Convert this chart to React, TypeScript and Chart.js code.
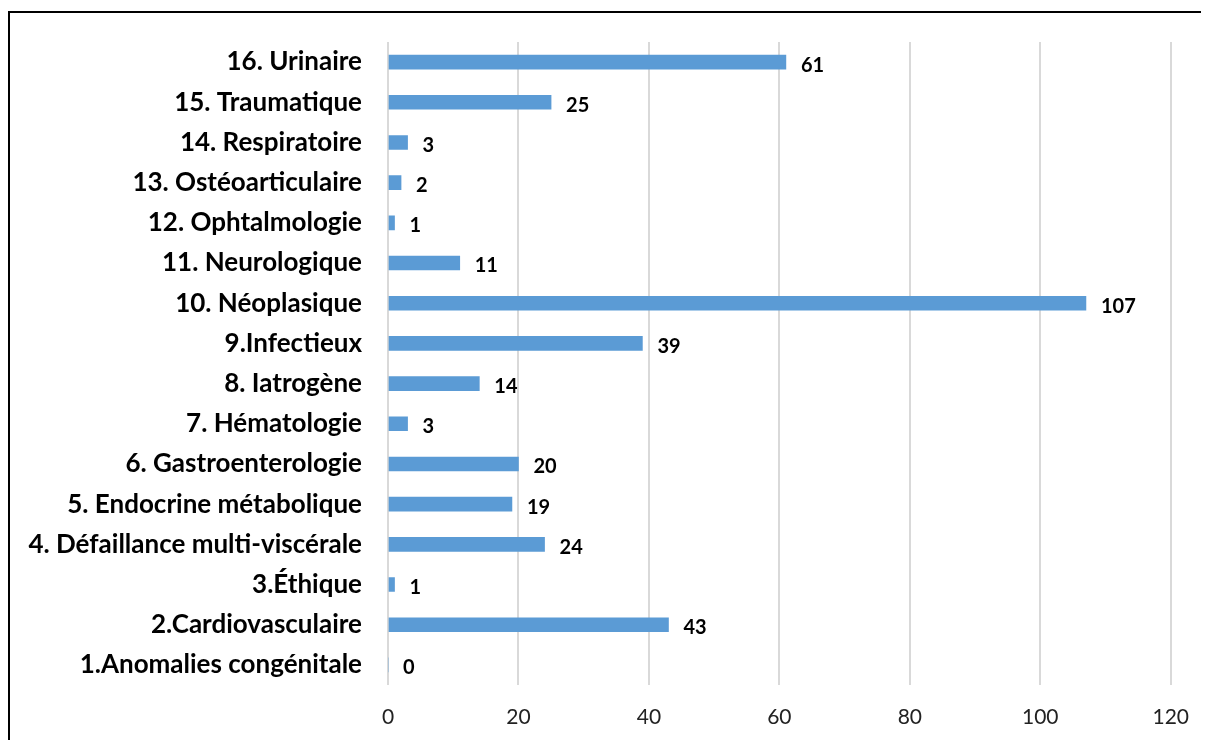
import React, { useEffect, useRef } from "react";
import { Chart, registerables } from "chart.js";

Chart.register(...registerables);

const categories = [
  "16. Urinaire",
  "15. Traumatique",
  "14. Respiratoire",
  "13. Ostéoarticulaire",
  "12. Ophtalmologie",
  "11. Neurologique",
  "10. Néoplasique",
  "9.Infectieux",
  "8. Iatrogène",
  "7. Hématologie",
  "6. Gastroenterologie",
  "5. Endocrine métabolique",
  "4. Défaillance multi-viscérale",
  "3.Éthique",
  "2.Cardiovasculaire",
  "1.Anomalies congénitale",
];
const values = [61, 25, 3, 2, 1, 11, 107, 39, 14, 3, 20, 19, 24, 1, 43, 0];
const xTicks = [0, 20, 40, 60, 80, 100, 120];

const FONT = "Lato, 'Open Sans', sans-serif";

const framePlugin = {
  id: "frame",
  beforeDraw(chart: any) {
    const ctx = chart.ctx;
    ctx.save();
    ctx.strokeStyle = "#000";
    ctx.lineWidth = 2;
    ctx.beginPath();
    ctx.moveTo(1, chart.height + 10);
    ctx.lineTo(1, 4);
    ctx.lineTo(chart.width + 10, 4);
    ctx.stroke();
    ctx.restore();
  },
};

const labelPlugin = {
  id: "valueLabels",
  afterDatasetsDraw(chart: any) {
    const ctx = chart.ctx;
    const meta = chart.getDatasetMeta(0);
    ctx.save();
    ctx.fillStyle = "#000";
    ctx.font = `bold 20px ${FONT}`;
    ctx.textAlign = "left";
    ctx.textBaseline = "middle";
    meta.data.forEach((bar: any, i: number) => {
      ctx.fillText(String(values[i]), bar.x + 15, bar.y + 3);
    });
    ctx.restore();
  },
};

export default function App() {
  const ref = useRef<HTMLCanvasElement>(null);
  useEffect(() => {
    if (!ref.current) return;
    const chart = new Chart(ref.current, {
      type: "bar",
      data: {
        labels: categories,
        datasets: [
          {
            data: values,
            backgroundColor: "#5B9BD5",
            barThickness: 14,
          },
        ],
      },
      options: {
        indexAxis: "y",
        animation: false,
        responsive: false,
        layout: { padding: { top: 34, right: 38, bottom: 0, left: 0 } },
        plugins: { legend: { display: false }, tooltip: { enabled: false } },
        scales: {
          x: {
            min: 0,
            max: 120,
            afterBuildTicks: (axis: any) => {
              axis.ticks = xTicks.map((v) => ({ value: v }));
            },
            afterFit: (axis: any) => {
              axis.height = 55;
            },
            border: { display: false },
            grid: { color: "#d9d9d9", lineWidth: 2, drawTicks: false },
            ticks: {
              padding: 20,
              color: "#222",
              font: { family: FONT, size: 21 },
            },
          },
          y: {
            afterFit: (axis: any) => {
              axis.width = 380;
              axis.paddingTop = 0;
              axis.paddingBottom = 0;
            },
            border: { display: false },
            grid: { display: false, drawTicks: false },
            ticks: {
              padding: 26,
              color: "#000",
              font: { family: FONT, size: 26, weight: "bold" },
            },
          },
        },
      },
      plugins: [framePlugin, labelPlugin],
    });
    return () => chart.destroy();
  }, []);
  return (
    <div style={{ width: 1201, height: 732 }}>
      <canvas ref={ref} width={1201} height={732} style={{ display: "block" }} />
    </div>
  );
}
